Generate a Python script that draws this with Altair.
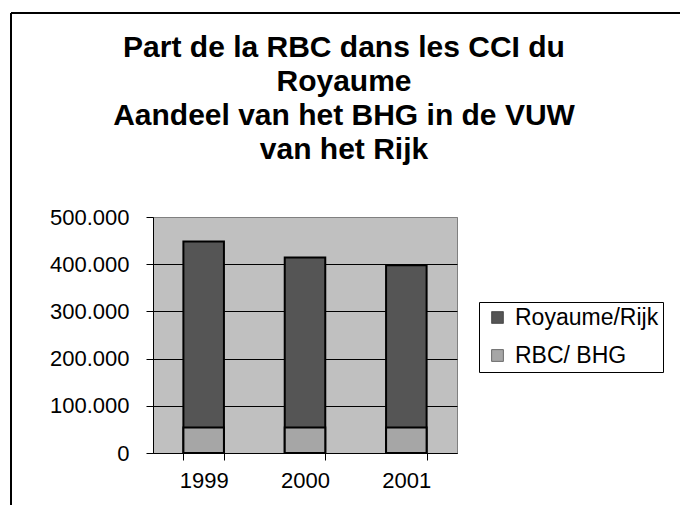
import altair as alt
import pandas as pd

years = ["1999", "2000", "2001"]
royaume = [448000, 414000, 398000]
rbc = [54000, 54000, 54000]
series = ["Royaume/Rijk", "RBC/ BHG"]
colors = ["#555555", "#a6a6a6"]
y_ticks = [0, 100000, 200000, 300000, 400000, 500000]
title_lines = [
    "Part de la RBC dans les CCI du",
    "Royaume",
    "Aandeel van het BHG in de VUW",
    "van het Rijk",
]

rows = []
for y, v in zip(years, royaume):
    rows.append({"year": y, "series": series[0], "value": v, "ord": 0})
for y, v in zip(years, rbc):
    rows.append({"year": y, "series": series[1], "value": v, "ord": 1})
df = pd.DataFrame(rows)

FONT = "Liberation Sans"

bars = alt.Chart(df).mark_bar(stroke="black", strokeWidth=2).encode(
    x=alt.X(
        "year:N",
        sort=years,
        title=None,
        scale=alt.Scale(paddingInner=0.6, paddingOuter=0.3),
        axis=alt.Axis(
            labelAngle=0,
            labelFont=FONT,
            labelFontSize=22,
            labelColor="black",
            labelPadding=10,
            tickBand="extent",
            tickSize=7,
            tickColor="black",
            domainColor="black",
            domainWidth=1,
            grid=False,
        ),
    ),
    y=alt.Y(
        "value:Q",
        stack=None,
        title=None,
        scale=alt.Scale(domain=[0, 500000], nice=False),
        axis=alt.Axis(
            values=y_ticks,
            labelExpr="replace(format(datum.value, ','), /,/g, '.')",
            labelFont=FONT,
            labelFontSize=22,
            labelColor="black",
            labelPadding=17,
            tickSize=7,
            tickColor="black",
            domainColor="black",
            grid=True,
            gridColor={
                "condition": {"test": "datum.value === 500000", "value": "#808080"},
                "value": "black",
            },
            gridOpacity=1,
            gridWidth=1,
        ),
    ),
    color=alt.Color(
        "series:N",
        scale=alt.Scale(domain=series, range=colors),
        legend=alt.Legend(
            title=None,
            orient="none",
            legendX=326,
            legendY=85,
            strokeColor="black",
            fillColor="white",
            padding=4,
            symbolType="square",
            symbolSize=140,
            symbolStrokeColor="black",
            symbolStrokeWidth=0.5,
            symbolOpacity=1,
            symbolOffset=3,
            labelFont=FONT,
            labelFontSize=23,
            labelColor="black",
            labelOffset=6,
            rowPadding=14,
        ),
    ),
    order=alt.Order("ord:Q"),
)

frame_data = alt.Data(values=[{"k": 1}])
frame_left = alt.Chart(frame_data).mark_rule(color="black", strokeWidth=2).encode(
    x=alt.value(-142), y=alt.value(-204), y2=alt.value(320)
)
frame_top = alt.Chart(frame_data).mark_rule(color="black", strokeWidth=2).encode(
    x=alt.value(-142), x2=alt.value(560), y=alt.value(-204)
)
title_text = alt.Chart(frame_data).mark_text(
    text=title_lines,
    font=FONT,
    fontSize=30,
    fontWeight="bold",
    lineHeight=34,
    color="black",
    align="center",
    baseline="alphabetic",
).encode(x=alt.value(191), y=alt.value(-160))

chart = (
    alt.layer(bars, frame_left, frame_top, title_text)
    .properties(
        width=304,
        height=236,
        autosize=alt.AutoSizeParams(type="none"),
        padding={"left": 145, "top": 209, "right": 223, "bottom": 52},
        view=alt.ViewBackground(fill="#c0c0c0", stroke="#808080", strokeWidth=1),
    )
    .configure_view(fill="#c0c0c0", stroke="#808080", strokeWidth=1)
    .configure(background="white")
)

chart.save("out.html", embed_options={"renderer": "svg", "actions": False})
